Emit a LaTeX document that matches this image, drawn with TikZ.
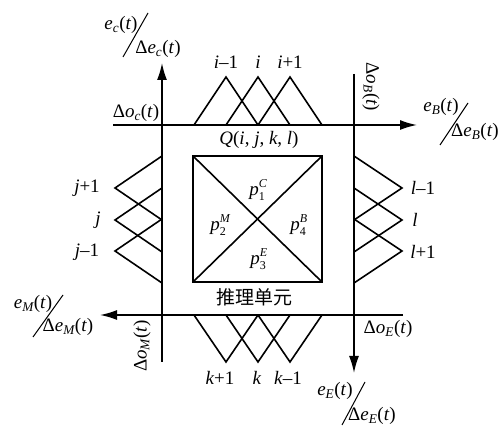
\documentclass[tikz,border=0pt]{standalone}
\usepackage{fontspec}
\setmainfont{Liberation Serif}
\newfontfamily\cjk{Noto Sans CJK SC}
\usetikzlibrary{arrows.meta}
\newcommand\Vt[2]{\textit{#1}\textsubscript{\itshape #2}(\textit{t})}
\newcommand\Pv[2]{\textit{p}\rlap{\raisebox{8pt}{\fontsize{12}{12}\selectfont\itshape #2}}\raisebox{-5pt}{\fontsize{12}{12}\selectfont #1}}
\begin{document}
\begin{tikzpicture}[x=1pt,y=-1pt,
  ln/.style={line width=1.6pt},
  ax/.style={line width=1.6pt,-{Latex[length=17pt,width=10pt]}},
  lbl/.style={inner sep=0pt,anchor=center,font=\fontsize{19}{21}\selectfont},
  sl/.style={line width=1pt}]
\useasboundingbox (0,0) rectangle (499,427);
% axes
\coordinate (L1) at (162,362); \coordinate (L2) at (162,63);
\coordinate (T1) at (113,125); \coordinate (T2) at (417,125);
\coordinate (R1) at (354,74);  \coordinate (R2) at (354,373);
\coordinate (B1) at (403,315); \coordinate (B2) at (100,315);
\draw[ax] (L1) -- (L2);
\draw[ax] (T1) -- (T2);
\draw[ax] (R1) -- (R2);
\draw[ax] (B1) -- (B2);
% square
\coordinate (SA) at (193,156); \coordinate (SC) at (322,282);
\draw[ln] (SA) rectangle (SC);
\draw[ln] (193,156) -- (322,282);
\draw[ln] (193,282) -- (322,156);
% top triangles
\foreach \c in {226,258,290}
  \draw[ln] (\c-32,125) -- (\c,77) -- (\c+32,125);
% bottom triangles
\foreach \c in {226,258,290}
  \draw[ln] (\c-32,315) -- (\c,362) -- (\c+32,315);
% left triangles
\foreach \c in {188,220,251}
  \draw[ln] (162,\c-32) -- (115,\c) -- (162,\c+32);
% right triangles
\foreach \c in {188,220,251}
  \draw[ln] (354,\c-32) -- (402,\c) -- (354,\c+32);
% axis labels
\node[lbl] (ec) at (121,25) {\Vt{e}{c}};
\node[lbl] (dec) at (158,49) {Δ\Vt{e}{c}};
\draw[sl] (123,57) -- (148,13);
\node[lbl] (doc) at (136,113) {Δ\Vt{o}{c}};
\node[lbl] (eb) at (441,107) {\Vt{e}{B}};
\node[lbl] (deb) at (475,132) {Δ\Vt{e}{B}};
\draw[sl] (440,145) -- (468,103);
\node[lbl,rotate=-90] (dob) at (371,87) {Δ\Vt{o}{B}};
\node[lbl] (em) at (33,304) {\Vt{e}{M}};
\node[lbl] (dem) at (68,327) {Δ\Vt{e}{M}};
\draw[sl] (33,337) -- (63,295);
\node[lbl,rotate=90] (dom) at (142,346) {Δ\Vt{o}{M}};
\node[lbl] (doe) at (388,329) {Δ\Vt{o}{E}};
\node[lbl] (ee) at (335,391) {\Vt{e}{E}};
\node[lbl] (dee) at (372,416) {Δ\Vt{e}{E}};
\draw[sl] (342,425) -- (365,382);
% index labels
\node[lbl] (im) at (226,62) {\textit{i}–1};
\node[lbl] (i0) at (258,62) {\textit{i}};
\node[lbl] (ip) at (290,62) {\textit{i}+1};
\node[lbl] (kp) at (220,378) {\textit{k}+1};
\node[lbl] (k0) at (257,378) {\textit{k}};
\node[lbl] (km) at (288,378) {\textit{k}–1};
\node[lbl] (jp) at (87,188) {\textit{j}+1};
\node[lbl] (j0) at (98,220) {\textit{j}};
\node[lbl] (jm) at (87,252) {\textit{j}–1};
\node[lbl] (lm) at (423,188) {\textit{l}–1};
\node[lbl] (l0) at (415,220) {\textit{l}};
\node[lbl] (lp) at (423,252) {\textit{l}+1};
% inner labels
\node[lbl] (Q) at (259,140) {\textit{Q}(\textit{i}, \textit{j}, \textit{k}, \textit{l})};
\node[lbl] (p1) at (257,190) {\Pv{1}{C}};
\node[lbl] (p2) at (218,225) {\Pv{2}{M}};
\node[lbl] (p4) at (298,225) {\Pv{4}{B}};
\node[lbl] (p3) at (258,259) {\Pv{3}{E}};
\node[lbl,font=\cjk\fontsize{19}{21}\selectfont] (unit) at (254,297) {推理单元};
\end{tikzpicture}
\end{document}
